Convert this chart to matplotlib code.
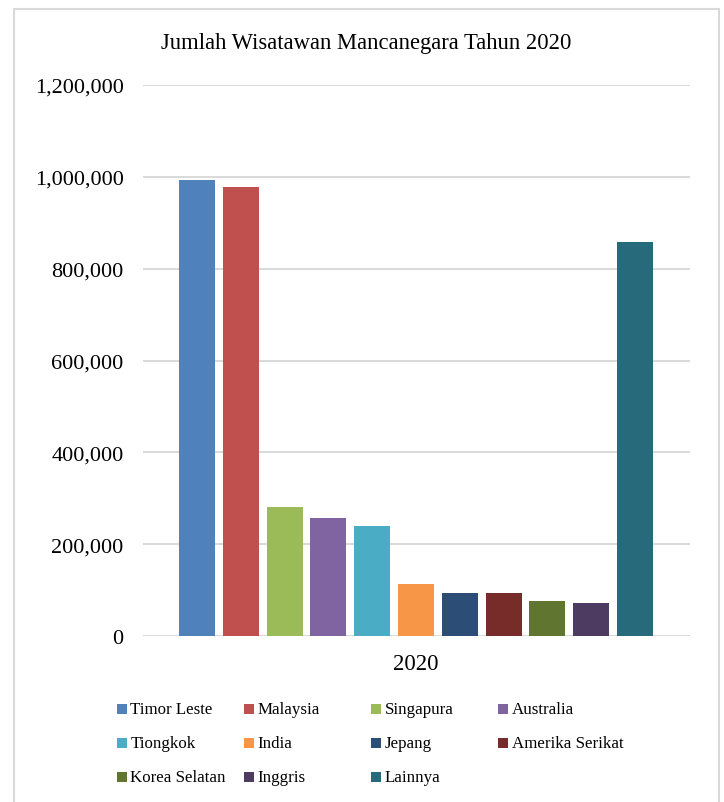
import matplotlib
matplotlib.use("Agg")
import matplotlib.pyplot as plt
from matplotlib.patches import Rectangle
from matplotlib.ticker import FuncFormatter

countries = ["Timor Leste", "Malaysia", "Singapura", "Australia", "Tiongkok", "India",
             "Jepang", "Amerika Serikat", "Korea Selatan", "Inggris", "Lainnya"]
visitors = [994000, 978000, 280000, 256000, 239000, 113000,
            93000, 93000, 76000, 72000, 859000]
colors = ["#4F81BD", "#C0504D", "#9BBB59", "#8064A2", "#4BACC6", "#F79646",
          "#2C4D75", "#772C2A", "#5F7530", "#4D3B62", "#276A7C"]
category = "2020"
title = "Jumlah Wisatawan Mancanegara Tahun 2020"
yticks = [0, 200000, 400000, 600000, 800000, 1000000, 1200000]

plt.rcParams['font.family'] = ['Liberation Serif', 'DejaVu Serif']

W, H = 724, 803
fig = plt.figure(figsize=(W / 100, H / 100), dpi=100)
fig.patch.set_facecolor("white")

# chart border
fig.add_artist(Rectangle((14 / W, -0.05), (719 - 14) / W, 1.05 - 10 / H,
                         transform=fig.transFigure, fill=False,
                         edgecolor="#d9d9d9", linewidth=1.5))

ax_left, ax_right, ax_top, ax_bottom = 143, 690, 86, 637
ax = fig.add_axes([ax_left / W, (H - ax_bottom) / H, (ax_right - ax_left) / W,
                   (ax_bottom - ax_top) / H])

x = list(range(len(countries)))
ax.bar(x, visitors, width=0.82, color=colors, zorder=3)

ax.set_ylim(0, 1200000)
ax.set_xlim(-1.233, 11.256)
ax.set_yticks(yticks)
ax.yaxis.set_major_formatter(FuncFormatter(lambda v, p: f"{int(v):,}"))
ax.set_xticks([(len(countries) - 1) / 2])
ax.set_xticklabels([category])
ax.grid(axis="y", color="#d9d9d9", linewidth=1.4, zorder=0)
for s in ax.spines.values():
    s.set_visible(False)
ax.tick_params(axis="both", length=0)
ax.tick_params(axis="y", pad=14, labelsize=16, labelcolor="#000000")
ax.tick_params(axis="x", pad=12, labelsize=16.5, labelcolor="#000000")

fig.text(366 / W, 1 - 43 / H, title, ha="center", va="center", fontsize=16.3, color="#000000")

# legend (row-major, 4 columns)
sq = 10
for i, (name, c) in enumerate(zip(countries, colors)):
    row, col = divmod(i, 4)
    cx = 117 + 127 * col
    cy = 710 + 34 * row
    fig.add_artist(Rectangle((cx / W, 1 - (cy + sq / 2) / H), sq / W, sq / H,
                             transform=fig.transFigure, facecolor=c, edgecolor="none"))
    fig.text((cx + 13.5) / W, 1 - cy / H, name, ha="left", va="center",
             fontsize=12.2, color="#000000")

fig.savefig("out.png", dpi=100)
